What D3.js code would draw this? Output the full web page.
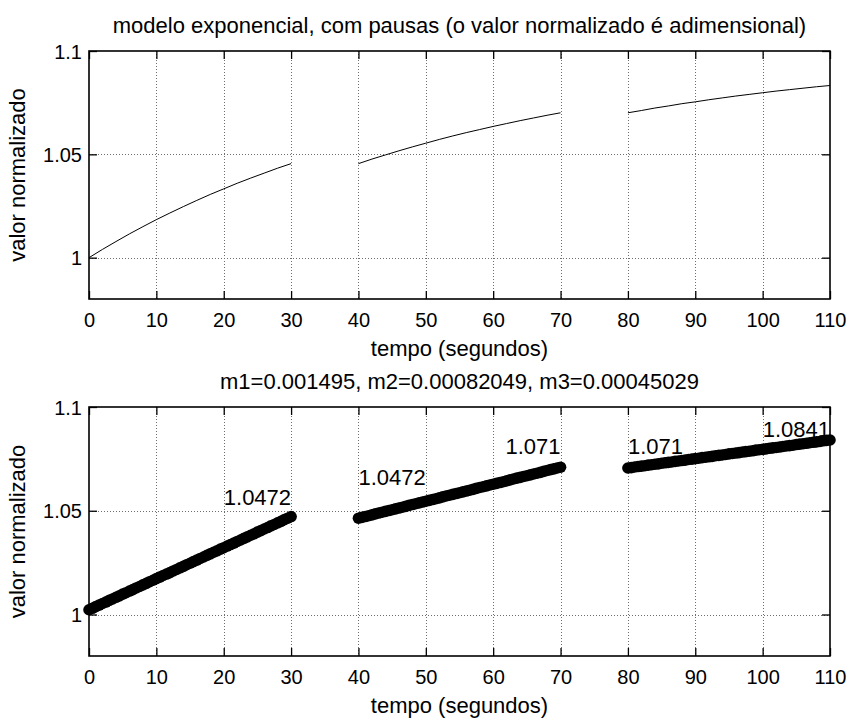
<!DOCTYPE html>
<html>
<head>
<meta charset="utf-8">
<script src="https://cdn.jsdelivr.net/npm/d3@7"></script>
<style>
  html, body { margin: 0; padding: 0; background: #fff; }
  svg { display: block; }
  text { font-family: "Liberation Sans", Arial, Helvetica, sans-serif; fill: #000; }
</style>
</head>
<body>
<svg id="chart" width="851" height="718"></svg>
<script>
// ---------- data ----------
const tituloSuperior = "modelo exponencial, com pausas (o valor normalizado é adimensional)";
const tituloInferior = "m1=0.001495, m2=0.00082049, m3=0.00045029";
const rotuloX = "tempo (segundos)";
const rotuloY = "valor normalizado";

const ticksX = [0, 10, 20, 30, 40, 50, 60, 70, 80, 90, 100, 110];
const ticksY = [1, 1.05, 1.1];
const ticksYTexto = ["1", "1.05", "1.1"];

// top panel: exponential curve (three segments, pauses 30-40 and 70-80)
const tempoExp1 = [0, 2, 4, 6, 8, 10, 12, 14, 16, 18, 20, 22, 24, 26, 28, 30];
const valorExp1 = [1.0000, 1.0040, 1.0078, 1.0115, 1.0150, 1.0184, 1.0216, 1.0247, 1.0277, 1.0306, 1.0333, 1.0360, 1.0385, 1.0409, 1.0433, 1.0455];
const tempoExp2 = [40, 42, 44, 46, 48, 50, 52, 54, 56, 58, 60, 62, 64, 66, 68, 70];
const valorExp2 = [1.0455, 1.0477, 1.0497, 1.0517, 1.0536, 1.0554, 1.0572, 1.0589, 1.0605, 1.0620, 1.0635, 1.0649, 1.0663, 1.0676, 1.0689, 1.0701];
const tempoExp3 = [80, 82, 84, 86, 88, 90, 92, 94, 96, 98, 100, 102, 104, 106, 108, 110];
const valorExp3 = [1.0701, 1.0712, 1.0724, 1.0734, 1.0745, 1.0754, 1.0764, 1.0773, 1.0782, 1.0790, 1.0798, 1.0806, 1.0813, 1.0820, 1.0827, 1.0833];

// bottom panel: fitted points (every 0.5 s)
const tempoAjuste1 = [0,0.5,1,1.5,2,2.5,3,3.5,4,4.5,5,5.5,6,6.5,7,7.5,8,8.5,9,9.5,10,10.5,11,11.5,12,12.5,13,13.5,14,14.5,15,15.5,16,16.5,17,17.5,18,18.5,19,19.5,20,20.5,21,21.5,22,22.5,23,23.5,24,24.5,25,25.5,26,26.5,27,27.5,28,28.5,29,29.5,30];
const valorAjuste1 = [1.0023,1.0030,1.0038,1.0045,1.0053,1.0060,1.0068,1.0075,1.0083,1.0090,1.0098,1.0105,1.0113,1.0120,1.0128,1.0135,1.0143,1.0150,1.0158,1.0165,1.0173,1.0180,1.0188,1.0195,1.0202,1.0210,1.0217,1.0225,1.0232,1.0240,1.0247,1.0255,1.0262,1.0270,1.0277,1.0285,1.0292,1.0300,1.0307,1.0315,1.0322,1.0330,1.0337,1.0344,1.0352,1.0359,1.0367,1.0374,1.0382,1.0389,1.0397,1.0404,1.0412,1.0419,1.0427,1.0434,1.0442,1.0449,1.0457,1.0464,1.0472];
const tempoAjuste2 = [40,40.5,41,41.5,42,42.5,43,43.5,44,44.5,45,45.5,46,46.5,47,47.5,48,48.5,49,49.5,50,50.5,51,51.5,52,52.5,53,53.5,54,54.5,55,55.5,56,56.5,57,57.5,58,58.5,59,59.5,60,60.5,61,61.5,62,62.5,63,63.5,64,64.5,65,65.5,66,66.5,67,67.5,68,68.5,69,69.5,70];
const valorAjuste2 = [1.0464,1.0468,1.0472,1.0476,1.0480,1.0485,1.0489,1.0493,1.0497,1.0501,1.0505,1.0509,1.0513,1.0517,1.0521,1.0526,1.0530,1.0534,1.0538,1.0542,1.0546,1.0550,1.0554,1.0558,1.0562,1.0567,1.0571,1.0575,1.0579,1.0583,1.0587,1.0591,1.0595,1.0599,1.0603,1.0608,1.0612,1.0616,1.0620,1.0624,1.0628,1.0632,1.0636,1.0640,1.0644,1.0649,1.0653,1.0657,1.0661,1.0665,1.0669,1.0673,1.0677,1.0681,1.0685,1.0690,1.0694,1.0698,1.0702,1.0706,1.0710];
const tempoAjuste3 = [80,80.5,81,81.5,82,82.5,83,83.5,84,84.5,85,85.5,86,86.5,87,87.5,88,88.5,89,89.5,90,90.5,91,91.5,92,92.5,93,93.5,94,94.5,95,95.5,96,96.5,97,97.5,98,98.5,99,99.5,100,100.5,101,101.5,102,102.5,103,103.5,104,104.5,105,105.5,106,106.5,107,107.5,108,108.5,109,109.5,110];
const valorAjuste3 = [1.0706,1.0708,1.0711,1.0713,1.0715,1.0717,1.0720,1.0722,1.0724,1.0726,1.0729,1.0731,1.0733,1.0735,1.0738,1.0740,1.0742,1.0744,1.0747,1.0749,1.0751,1.0753,1.0756,1.0758,1.0760,1.0762,1.0765,1.0767,1.0769,1.0771,1.0774,1.0776,1.0778,1.0780,1.0783,1.0785,1.0787,1.0789,1.0792,1.0794,1.0796,1.0798,1.0801,1.0803,1.0805,1.0807,1.0810,1.0812,1.0814,1.0816,1.0819,1.0821,1.0823,1.0825,1.0828,1.0830,1.0832,1.0834,1.0837,1.0839,1.0841];

// annotations in the bottom panel
const anotTexto = ["1.0472", "1.0472", "1.071", "1.071", "1.0841"];
const anotTempo = [30, 40, 70, 80, 110];
const anotValor = [1.0527, 1.0624, 1.0774, 1.0774, 1.0856];
const anotAlinh = ["end", "start", "end", "start", "end"];

// ---------- layout ----------
const svg = d3.select("#chart");
const left = 89, right = 830;
const yDomain = [0.98, 1.1];
const xDomain = [0, 110];

function panel(top, bottom, titulo) {
  const x = d3.scaleLinear().domain(xDomain).range([left, right]);
  const y = d3.scaleLinear().domain(yDomain).range([bottom, top]);
  const g = svg.append("g");

  // grid
  const grid = g.append("g").attr("stroke", "#6e6e6e").attr("stroke-width", 1)
    .attr("stroke-dasharray", "1,2").attr("shape-rendering", "crispEdges");
  grid.selectAll("line.gx").data(ticksX.filter(d => d > xDomain[0] && d < xDomain[1])).join("line")
    .attr("x1", d => Math.round(x(d)) + 0.5).attr("x2", d => Math.round(x(d)) + 0.5)
    .attr("y1", top).attr("y2", bottom);
  grid.selectAll("line.gy").data(ticksY.filter(d => d < yDomain[1])).join("line")
    .attr("y1", d => Math.round(y(d)) + 0.5).attr("y2", d => Math.round(y(d)) + 0.5)
    .attr("x1", left).attr("x2", right);

  // axes via d3 axis (inner ticks on all four sides)
  const tl = 8;
  const axB = g.append("g").attr("transform", `translate(0,${bottom})`)
    .call(d3.axisBottom(x).tickValues(ticksX).tickSize(-tl).tickPadding(14).tickFormat(d3.format("d")));
  const axT = g.append("g").attr("transform", `translate(0,${top})`)
    .call(d3.axisTop(x).tickValues(ticksX).tickSize(-tl).tickFormat(""));
  const axL = g.append("g").attr("transform", `translate(${left},0)`)
    .call(d3.axisLeft(y).tickValues(ticksY).tickSize(-tl).tickPadding(7).tickFormat((d, i) => ticksYTexto[i]));
  const axR = g.append("g").attr("transform", `translate(${right},0)`)
    .call(d3.axisRight(y).tickValues(ticksY).tickSize(-tl).tickFormat(""));
  [axB, axT, axL, axR].forEach(a => {
    a.select(".domain").remove();
    a.selectAll("line").attr("stroke", "#000").attr("stroke-width", 1.3);
    a.selectAll("text").attr("font-size", 20).attr("fill", "#000")
      .style("font-family", '"Liberation Sans", Arial, sans-serif');
  });
  axB.selectAll("text").attr("dy", "0.71em");
  axL.selectAll("text").attr("dy", "0.35em");

  // box
  g.append("rect").attr("x", left).attr("y", top).attr("width", right - left).attr("height", bottom - top)
    .attr("fill", "none").attr("stroke", "#000").attr("stroke-width", 1.6);

  // title
  g.append("text").attr("x", (left + right) / 2).attr("y", top - 18)
    .attr("text-anchor", "middle").attr("font-size", 22).text(titulo);
  // x label
  g.append("text").attr("x", (left + right) / 2).attr("y", bottom + 57)
    .attr("text-anchor", "middle").attr("font-size", 22).text(rotuloX);
  // y label
  g.append("text").attr("transform", `translate(25,${(top + bottom) / 2}) rotate(-90)`)
    .attr("text-anchor", "middle").attr("font-size", 22).text(rotuloY);

  return { g, x, y };
}

// top panel
const p1 = panel(51, 299, tituloSuperior);
const linha = d3.line().x(d => p1.x(d[0])).y(d => p1.y(d[1]));
[[tempoExp1, valorExp1], [tempoExp2, valorExp2], [tempoExp3, valorExp3]].forEach(([t, v]) => {
  p1.g.append("path").datum(t.map((d, i) => [d, v[i]]))
    .attr("fill", "none").attr("stroke", "#000").attr("stroke-width", 1).attr("d", linha);
});

// bottom panel
const p2 = panel(407, 656, tituloInferior);
[[tempoAjuste1, valorAjuste1], [tempoAjuste2, valorAjuste2], [tempoAjuste3, valorAjuste3]].forEach(([t, v]) => {
  p2.g.append("g").selectAll("circle").data(t.map((d, i) => [d, v[i]])).join("circle")
    .attr("cx", d => p2.x(d[0])).attr("cy", d => p2.y(d[1])).attr("r", 5.8).attr("fill", "#000");
});
p2.g.append("g").selectAll("text").data(anotTexto).join("text")
  .attr("x", (d, i) => p2.x(anotTempo[i])).attr("y", (d, i) => p2.y(anotValor[i]))
  .attr("text-anchor", (d, i) => anotAlinh[i]).attr("font-size", 22).text(d => d);
</script>
</body>
</html>
